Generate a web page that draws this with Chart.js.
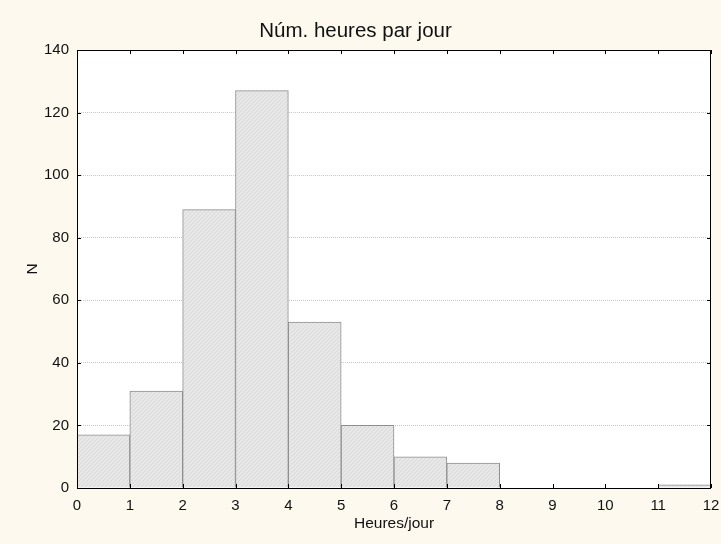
<!DOCTYPE html>
<html>
<head>
<meta charset="utf-8">
<script src="https://cdn.jsdelivr.net/npm/chart.js@4.4.1/dist/chart.umd.min.js"></script>
<style>
  html, body { margin: 0; padding: 0; background: #fdf9ee; }
  #wrap { width: 721px; height: 544px; }
</style>
</head>
<body>
<div id="wrap"><canvas id="histo" width="721" height="544"></canvas></div>
<script>
// bins of one hour, left edge 0..11
const binStarts = [0, 1, 2, 3, 4, 5, 6, 7, 8, 9, 10, 11];
const counts = [17, 31, 89, 127, 53, 20, 10, 8, 0, 0, 0, 1];
const xTicks = [0, 1, 2, 3, 4, 5, 6, 7, 8, 9, 10, 11, 12];
const yTicks = [0, 20, 40, 60, 80, 100, 120, 140];

const chartTitle = 'Núm. heures par jour';
const xTitle = 'Heures/jour';
const yTitle = 'N';

const FONT = '"Liberation Sans", Arial, Helvetica, sans-serif';

// light grey hatch like the original
function hatch() {
  const c = document.createElement('canvas');
  c.width = 4; c.height = 4;
  const g = c.getContext('2d');
  g.fillStyle = '#e7e7e7';
  g.fillRect(0, 0, 4, 4);
  g.fillStyle = '#dadada';
  g.fillRect(0, 3, 1, 1);
  g.fillRect(1, 2, 1, 1);
  g.fillRect(2, 1, 1, 1);
  g.fillRect(3, 0, 1, 1);
  return g.createPattern(c, 'repeat');
}

const histData = binStarts.map((b, i) => ({ x: b + 0.5, y: counts[i] }));

// white plot area, black frame, inward ticks, axis titles
const framePlugin = {
  id: 'frame',
  beforeDraw(chart) {
    const { ctx, chartArea: a } = chart;
    ctx.save();
    ctx.fillStyle = '#fdf9ee';
    ctx.fillRect(0, 0, chart.width, chart.height);
    ctx.fillStyle = '#ffffff';
    ctx.fillRect(a.left, a.top, a.right - a.left, a.bottom - a.top);
    ctx.restore();
  },
  afterDraw(chart) {
    const { ctx, chartArea: a, scales } = chart;
    ctx.save();
    ctx.strokeStyle = '#000';
    ctx.lineWidth = 1;
    ctx.strokeRect(a.left + 0.5, a.top + 0.5, a.right - a.left - 1, a.bottom - a.top);
    ctx.beginPath();
    xTicks.forEach(v => {
      const px = Math.round(scales.x.getPixelForValue(v)) + 0.5;
      ctx.moveTo(px, a.bottom); ctx.lineTo(px, a.bottom - 4);
      ctx.moveTo(px, a.top); ctx.lineTo(px, a.top + 4);
    });
    yTicks.forEach(v => {
      const py = Math.round(scales.y.getPixelForValue(v)) + 0.5;
      ctx.moveTo(a.left, py); ctx.lineTo(a.left + 4, py);
      ctx.moveTo(a.right, py); ctx.lineTo(a.right - 4, py);
    });
    ctx.stroke();

    ctx.fillStyle = '#111';
    ctx.font = '15.5px ' + FONT;
    ctx.textAlign = 'center';
    ctx.textBaseline = 'middle';
    ctx.fillText(xTitle, (a.left + a.right) / 2, 524);
    ctx.translate(33, (a.top + a.bottom) / 2);
    ctx.rotate(-Math.PI / 2);
    ctx.fillText(yTitle, 0, 0);
    ctx.restore();
  }
};

new Chart(document.getElementById('histo'), {
  type: 'bar',
  data: {
    datasets: [{
      data: histData,
      backgroundColor: hatch(),
      borderColor: '#8f8f8f',
      borderWidth: 1,
      barPercentage: 1,
      categoryPercentage: 1
    }]
  },
  options: {
    responsive: false,
    animation: false,
    layout: { padding: { left: 0, right: 10, top: 0, bottom: 0 } },
    plugins: {
      legend: { display: false },
      tooltip: { enabled: false },
      title: {
        display: true,
        text: chartTitle,
        color: '#111',
        font: { family: FONT, size: 20.5, weight: 'normal', lineHeight: 1.2 },
        padding: { top: 19, bottom: 6.4 }
      }
    },
    scales: {
      x: {
        type: 'linear',
        min: 0,
        max: 12,
        offset: false,
        afterBuildTicks: s => { s.ticks = xTicks.map(v => ({ value: v })); },
        afterFit: s => { s.height = 56; s.paddingLeft = 0; s.paddingRight = 0; },
        grid: { display: false, drawTicks: false, offset: false },
        border: { display: false },
        ticks: {
          color: '#111',
          padding: 9,
          maxRotation: 0,
          autoSkip: false,
          font: { family: FONT, size: 15 }
        }
      },
      y: {
        min: 0,
        max: 140,
        afterBuildTicks: s => { s.ticks = yTicks.map(v => ({ value: v })); },
        afterFit: s => { s.width = 77; },
        grid: {
          color: '#c8c8c8',
          lineWidth: 1,
          drawTicks: false
        },
        border: { display: false, dash: [1, 1] },
        ticks: {
          color: '#111',
          padding: 8,
          font: { family: FONT, size: 15 }
        }
      }
    }
  },
  plugins: [framePlugin]
});
</script>
</body>
</html>
